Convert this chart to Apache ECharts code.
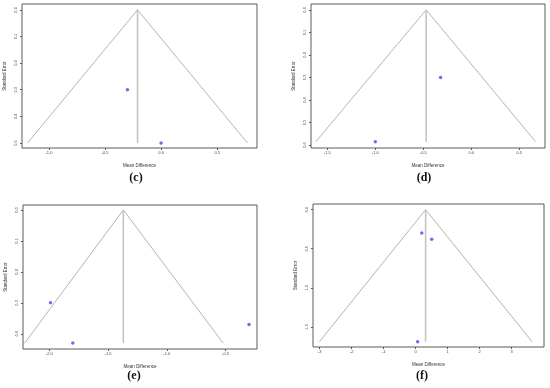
<!DOCTYPE html>
<html><head><meta charset="utf-8">
<script src="https://cdn.jsdelivr.net/npm/echarts@6/dist/echarts.min.js"></script>
<style>html,body{margin:0;padding:0;background:#fff}#c{width:550px;height:388px}</style>
</head><body><div id="c"></div>
<script>
// ---- data ----
const panelLabels = ['(c)', '(d)', '(e)', '(f)'];
const studyMD = [[-0.30, 0.00], [-1.00, -0.32], [-1.99, -1.80, -0.30], [0.19, 0.50, 0.06]];
const studySE = [[0.30, 0.50], [0.585, 0.30], [0.30, 0.43, 0.37], [0.30, 0.38, 1.69]];
const pooledMD = [-0.21, -0.47, -1.37, 0.31];
const funnelLeft = [-1.19, -1.62, -2.21, -3.01];
const funnelRight = [0.77, 0.67, -0.52, 3.64];
const funnelSE = [0.5, 0.585, 0.43, 1.69];
const xTickValues = [[-1.0, -0.5, 0.0, 0.5], [-1.5, -1.0, -0.5, 0.0, 0.5], [-2.0, -1.5, -1.0, -0.5], [-3, -2, -1, 0, 1, 2, 3]];
const xTickLabels = [['-1.0', '-0.5', '0.0', '0.5'], ['-1.5', '-1.0', '-0.5', '0.0', '0.5'], ['-2.0', '-1.5', '-1.0', '-0.5'], ['-3', '-2', '-1', '0', '1', '2', '3']];
const yTickValues = [[0, 0.1, 0.2, 0.3, 0.4, 0.5], [0, 0.1, 0.2, 0.3, 0.4, 0.5, 0.6], [0, 0.1, 0.2, 0.3, 0.4], [0, 0.5, 1.0, 1.5]];
const yTickLabels = [['0.0', '0.1', '0.2', '0.3', '0.4', '0.5'], ['0.0', '0.1', '0.2', '0.3', '0.4', '0.5', '0.6'], ['0.0', '0.1', '0.2', '0.3', '0.4'], ['0.0', '0.5', '1.0', '1.5']];
const xRange = [[-1.24, 0.855], [-1.67, 0.768], [-2.224, -0.232], [-3.21, 4.01]];
const yRange = [[-0.022, 0.519], [-0.026, 0.613], [-0.016, 0.449], [-0.072, 1.757]];
const xTitle = 'Mean Difference';
const yTitle = 'Standard Error';

// ---- layout ----
const grids = [
  {left: 22, top: 4, width: 235, height: 144},
  {left: 311, top: 4, width: 234, height: 144},
  {left: 23, top: 205, width: 234, height: 144},
  {left: 313, top: 204, width: 231, height: 143}
];
const labelPos = [[136, 178], [424, 178], [134, 376], [422, 376]];

const chart = echarts.init(document.getElementById('c'), null, {renderer: 'canvas'});
const fmt = (vals, labs) => v => { const i = vals.findIndex(t => Math.abs(t - v) < 1e-9); return i >= 0 ? labs[i] : ''; };

const option = {
  animation: false,
  backgroundColor: '#fff',
  grid: grids.map(g => Object.assign({show: true, borderColor: '#5a5a5a', borderWidth: 1, backgroundColor: 'transparent'}, g)),
  xAxis: grids.map((g, i) => ({
    type: 'value', gridIndex: i, position: 'bottom', min: xRange[i][0], max: xRange[i][1],
    axisLine: {show: false, onZero: false}, splitLine: {show: false},
    axisTick: {show: true, length: 2, customValues: xTickValues[i], lineStyle: {color: '#5a5a5a', width: 1}},
    axisLabel: {customValues: xTickValues[i], formatter: fmt(xTickValues[i], xTickLabels[i]), fontSize: 4, color: '#444', margin: 3, fontFamily: 'Liberation Sans'},
    name: xTitle, nameLocation: 'middle', nameGap: 15,
    nameTextStyle: {fontSize: 4.5, color: '#333', fontFamily: 'Liberation Sans'}
  })),
  yAxis: grids.map((g, i) => ({
    type: 'value', gridIndex: i, position: 'left', inverse: true, min: yRange[i][0], max: yRange[i][1],
    axisLine: {show: false, onZero: false}, splitLine: {show: false},
    axisTick: {show: true, length: 2, customValues: yTickValues[i], lineStyle: {color: '#5a5a5a', width: 1}},
    axisLabel: {customValues: yTickValues[i], formatter: fmt(yTickValues[i], yTickLabels[i]), fontSize: 4, color: '#444', margin: 4, rotate: 90, fontFamily: 'Liberation Sans'},
    name: yTitle, nameLocation: 'middle', nameGap: 15, nameRotate: 90,
    nameTextStyle: {fontSize: 4.5, color: '#333', fontFamily: 'Liberation Sans'}
  })),
  series: [],
  graphic: panelLabels.map((t, i) => ({
    type: 'text', x: labelPos[i][0], y: labelPos[i][1],
    style: {text: t, font: 'bold 12px "Liberation Serif"', fill: '#111', textAlign: 'center', textVerticalAlign: 'middle'}
  }))
};

for (let i = 0; i < 4; i++) {
  option.series.push({
    type: 'line', xAxisIndex: i, yAxisIndex: i, symbol: 'none', silent: true,
    lineStyle: {color: '#b4b4b4', width: 1},
    data: [[funnelLeft[i], funnelSE[i]], [pooledMD[i], 0], [funnelRight[i], funnelSE[i]]]
  });
  option.series.push({
    type: 'line', xAxisIndex: i, yAxisIndex: i, symbol: 'none', silent: true,
    lineStyle: {color: '#c4c4c4', width: 1.6},
    data: [[pooledMD[i], 0], [pooledMD[i], funnelSE[i]]]
  });
  option.series.push({
    type: 'scatter', xAxisIndex: i, yAxisIndex: i, symbol: 'circle', symbolSize: 3.5,
    itemStyle: {color: '#4a4af0'},
    data: studyMD[i].map((x, k) => [x, studySE[i][k]])
  });
}
chart.setOption(option);
</script>
</body></html>
